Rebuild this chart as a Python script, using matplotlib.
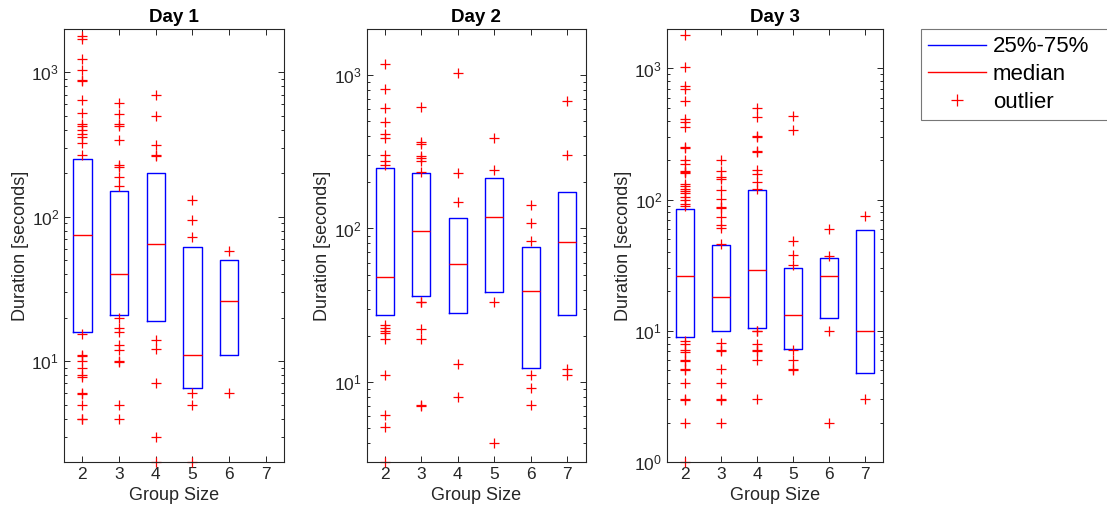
import numpy as np
import matplotlib
matplotlib.use("Agg")
import matplotlib.pyplot as plt
from matplotlib.lines import Line2D
from matplotlib.ticker import LogLocator, LogFormatterSciNotation, NullFormatter

plt.rcParams['font.family'] = ['Liberation Sans', 'DejaVu Sans']
plt.rcParams['mathtext.default'] = 'regular'

group_sizes = [2, 3, 4, 5, 6, 7]
days = ["Day 1", "Day 2", "Day 3"]

# Quartiles and medians per group size (None = no observations)
day1_q1 = [16, 21, 19, 6.5, 11, None]
day1_med = [75, 40, 65, 11, 26, None]
day1_q3 = [250, 152, 200, 61.5, 50, None]
day1_out = [
    [1800, 1700, 1235, 1043, 880, 870, 647, 526, 441, 423, 401, 376, 357, 324, 266,
     15.5, 11, 10.8, 10, 9, 8, 7.8, 6, 5.9, 5, 4, 3.95],
    [617, 517, 440, 423, 338, 227, 222, 190, 163,
     20, 17, 16, 13, 12, 10, 9.9, 5, 4],
    [702, 496, 312, 266, 262, 14.1, 12.1, 7, 3, 2],
    [130, 95, 72, 6, 5, 2],
    [58, 6],
    [],
]

day2_q1 = [27.2, 36.3, 28.3, 38.5, 12.4, 27.2]
day2_med = [48.5, 97, 58.5, 119, 39.4, 81.6]
day2_q3 = [249, 231, 116.5, 214, 76, 174]
day2_out = [
    [1190, 818, 609, 497, 411, 391, 303, 274, 261,
     23.5, 22.6, 21.6, 20.7, 19, 11.1, 6.1, 5.1, 3.0],
    [616, 367, 355, 298, 287, 274, 232, 33.3, 33, 22.1, 19.1, 7.1, 7.0],
    [1040, 229, 148, 13.1, 8.0],
    [391, 240, 33, 4.0],
    [142, 109, 83, 11.1, 9.1, 7.1],
    [681, 301, 12.2, 11.1],
]

day3_q1 = [9.05, 10, 10.5, 7.3, 12.5, 4.8]
day3_med = [26.2, 18, 28.9, 13.1, 26.2, 10]
day3_q3 = [85, 44.8, 117.5, 30.1, 35.9, 58.3]
day3_out = [
    [1808, 1032, 740, 698, 569, 413, 389, 361, 251, 248, 201, 188, 165, 163, 160,
     132, 128, 120, 116, 112, 104.5, 98.6, 93, 88.8,
     8.4, 8.0, 7.1, 6.9, 6.0, 5.9, 5.1, 5.0, 4.0, 3.0, 2.98, 2.0, 1.0],
    [202, 164, 148, 144, 119, 102, 88, 87, 73.6, 63.6, 60.7, 45.6,
     8.1, 7.1, 7.0, 5.1, 4.0, 3.0, 2.98, 2.0],
    [497, 425, 308, 299, 237, 230, 167, 157, 136, 121,
     10, 9.9, 8.0, 7.1, 7.0, 6.0, 3.0],
    [437, 340, 48, 38, 31.6, 7.1, 6.0, 5.1, 5.0],
    [59.7, 37, 10, 2],
    [75.4, 3.0],
]

quartile_lo = [day1_q1, day2_q1, day3_q1]
medians = [day1_med, day2_med, day3_med]
quartile_hi = [day1_q3, day2_q3, day3_q3]
outliers = [day1_out, day2_out, day3_out]
y_limits = [(2, 2000), (3, 2000), (1, 2000)]

fig = plt.figure(figsize=(11.07, 5.17), dpi=100)
W, H = 1107.0, 517.0
axes_px = [(64, 220), (366.6, 219), (667, 216)]
bottom = (H - 462) / H
height = 433 / H

text_col = '#262626'
for i, (x0, w) in enumerate(axes_px):
    ax = fig.add_axes([x0 / W, bottom, w / W, height])
    stats, pos = [], []
    for g, lo, md, hi, fl in zip(group_sizes, quartile_lo[i], medians[i],
                                 quartile_hi[i], outliers[i]):
        if md is None:
            continue
        stats.append(dict(med=md, q1=lo, q3=hi, whislo=lo, whishi=hi,
                          fliers=np.array(fl, dtype=float)))
        pos.append(g)
    parts = ax.bxp(stats, positions=pos, widths=0.5, showcaps=False,
                   boxprops=dict(color='blue', linewidth=1.0),
                   medianprops=dict(color='red', linewidth=1.0),
                   whiskerprops=dict(linewidth=0),
                   flierprops=dict(marker='+', markeredgecolor='red', markersize=7,
                                   markeredgewidth=0.9, linestyle='none'))
    ax.set_yscale('log')
    ax.set_ylim(*y_limits[i])
    ax.set_xlim(1.5, 7.5)
    for fl_line in parts['fliers']:
        fl_line.set_clip_on(False)
    ax.set_xticks(group_sizes)
    ax.set_xticklabels([str(g) for g in group_sizes])
    ax.yaxis.set_major_locator(LogLocator(base=10))
    ax.yaxis.set_major_formatter(LogFormatterSciNotation())
    ax.yaxis.set_minor_locator(LogLocator(base=10, subs=np.arange(2, 10)))
    ax.yaxis.set_minor_formatter(NullFormatter())
    ax.tick_params(which='both', direction='in', top=True, right=True,
                   color=text_col, labelcolor=text_col, labelsize=12.5, width=0.7)
    ax.tick_params(which='major', length=4.5)
    ax.tick_params(which='minor', length=2.5)
    for s in ax.spines.values():
        s.set_color(text_col)
        s.set_linewidth(0.8)
    ax.set_xlabel('Group Size', fontsize=13, color=text_col, labelpad=4)
    ax.set_ylabel('Duration [seconds]', fontsize=13, color=text_col, labelpad=2)
    ax.set_title(days[i], fontsize=13.5, fontweight='bold', pad=5)

handles = [Line2D([], [], color='blue', lw=1.0),
           Line2D([], [], color='red', lw=1.0),
           Line2D([], [], color='red', marker='+', linestyle='none',
                  markersize=8, markeredgewidth=0.9)]
leg = fig.legend(handles, ['25%-75%', 'median', 'outlier'],
                 loc='upper left', bbox_to_anchor=(921 / W, 0.0, 200 / W, 1 - 29 / H),
                 mode='expand', fontsize=16, frameon=True, fancybox=False,
                 handlelength=2.6, handletextpad=0.3, labelspacing=0.3,
                 borderpad=0.33, borderaxespad=0.0)
leg.get_frame().set_edgecolor('#555555')
leg.get_frame().set_linewidth(0.8)

fig.savefig('out.png', dpi=100)
